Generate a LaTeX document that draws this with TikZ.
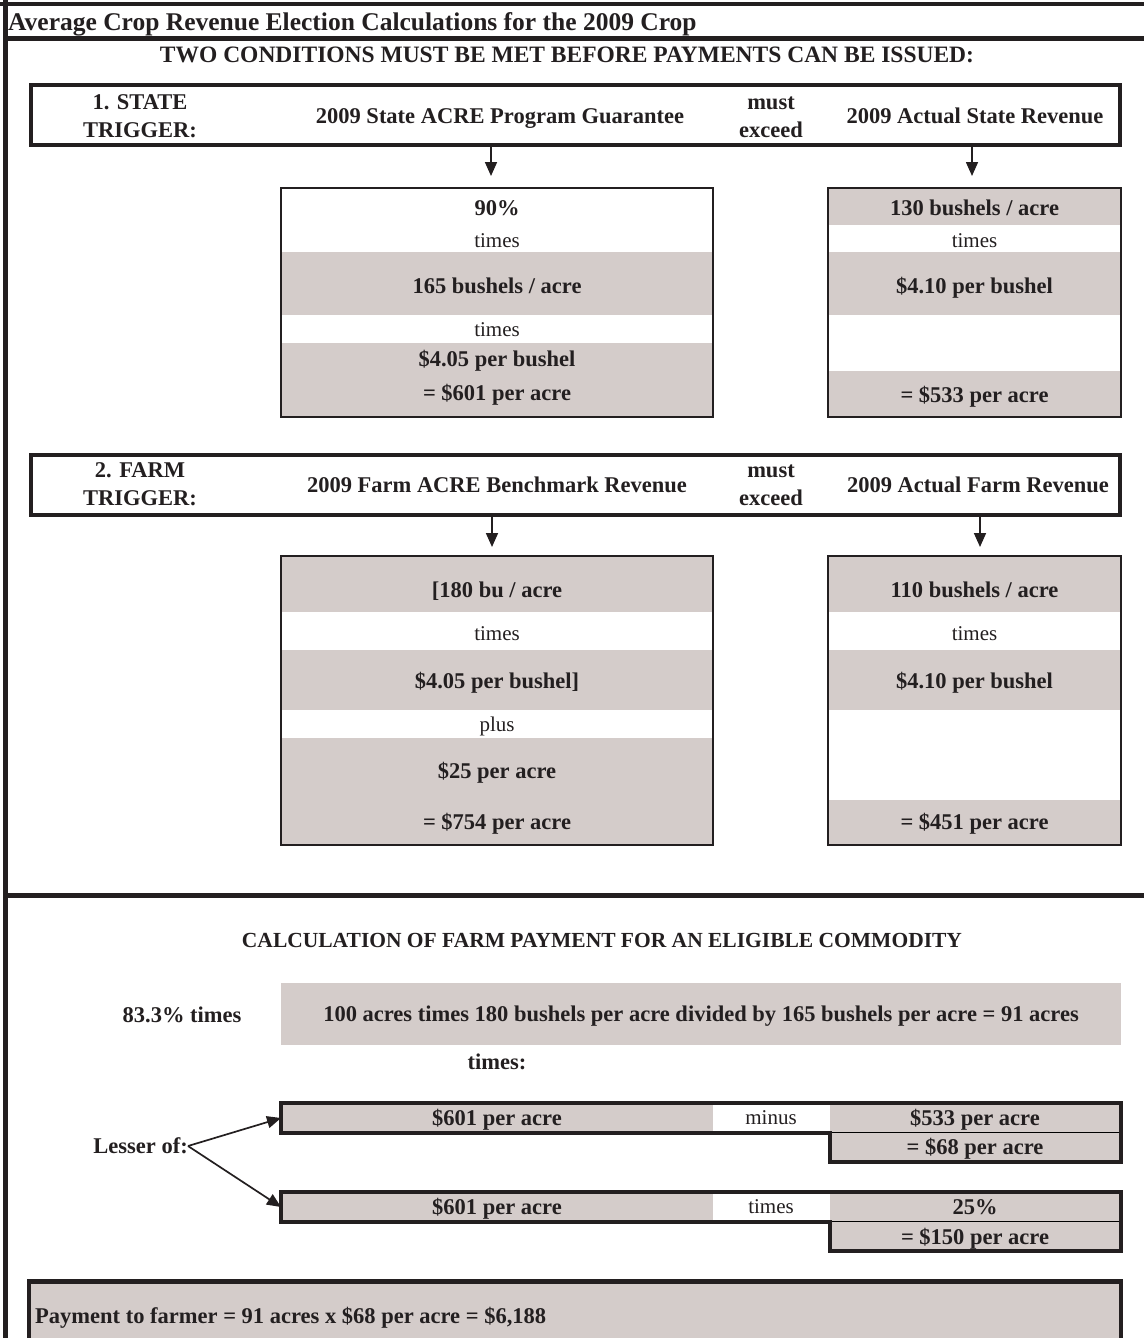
\documentclass[tikz,border=0pt]{standalone}
\usepackage{fontspec}
\setmainfont{Liberation Serif}
\usetikzlibrary{arrows.meta}
\definecolor{band}{RGB}{212,204,202}
\definecolor{ink}{RGB}{35,31,32}
\definecolor{thin}{RGB}{110,105,105}
\begin{document}
\begin{tikzpicture}[x=1pt,y=-1pt,
  bt/.style={font=\bfseries\fontsize{22.5}{26}\selectfont, text=ink, inner sep=0pt, text height=14.9pt, text depth=0pt},
  nt/.style={font=\fontsize{21}{25}\selectfont, text=ink, inner sep=0pt, text height=13.9pt, text depth=0pt},
  trig/.style={draw=ink, line width=4pt, inner sep=0pt},
  cbox/.style={draw=ink, line width=2.5pt, inner sep=0pt},
  arr/.style={draw=ink, line width=1.7pt, -{Triangle[length=14pt,width=12pt]}},
  rowline/.style={draw=ink, line width=4pt, line join=miter},
]
\useasboundingbox (0,0) rectangle (1144,1338);
% ---------- outer frame ----------
\draw[ink, line width=4pt] (0,4) -- (1144,4);
\draw[ink, line width=5pt] (5.5,0) -- (5.5,1338);
\draw[ink, line width=5pt] (3,39) -- (1144,39);
\node[bt, font=\bfseries\fontsize{25.5}{30}\selectfont, text height=16.9pt, anchor=west] (title) at (8,22.5) {Average Crop Revenue Election Calculations for the 2009 Crop};
\node[bt, font=\bfseries\fontsize{23.5}{28}\selectfont, text height=15.6pt] (cond) at (567,54.5) {TWO CONDITIONS MUST BE MET BEFORE PAYMENTS CAN BE ISSUED:};

% ---------- state trigger ----------
\node[trig, minimum width=1089pt, minimum height=59.5pt] (stbox) at (575.5,114.75) {};
\node[bt] (st1) at (140,102.5) {1. STATE};
\node[bt] (st2) at (140,130.5) {TRIGGER:};
\node[bt] (stg) at (500,116.5) {2009 State ACRE Program Guarantee};
\node[bt] (stm1) at (771,102.5) {must};
\node[bt] (stm2) at (771,130.5) {exceed};
\node[bt] (sta) at (975,116.5) {2009 Actual State Revenue};
\coordinate (sgtip) at (491,176);
\coordinate (satip) at (972,176);
\draw[arr] (stbox.south -| sgtip) -- (sgtip);
\draw[arr] (stbox.south -| satip) -- (satip);

% state left calc box
\fill[band] (281,252) rectangle (713,315);
\fill[band] (281,343) rectangle (713,417);
\node[cbox, minimum width=432pt, minimum height=229pt] (sl) at (497,302.5) {};
\node[bt] (sl1) at (497,208.5) {90\%};
\node[nt] (sl2) at (497,240.5) {times};
\node[bt] (sl3) at (497,286) {165 bushels / acre};
\node[nt] (sl4) at (497,330) {times};
\node[bt] (sl5) at (497,359) {\$4.05 per bushel};
\node[bt] (sl6) at (497,393) {= \$601 per acre};

% state right calc box
\fill[band] (828,188) rectangle (1121,225);
\fill[band] (828,252) rectangle (1121,315);
\fill[band] (828,371) rectangle (1121,417);
\node[cbox, minimum width=293pt, minimum height=229pt] (sr) at (974.5,302.5) {};
\node[bt] (sr1) at (974.5,208.5) {130 bushels / acre};
\node[nt] (sr2) at (974.5,240.5) {times};
\node[bt] (sr3) at (974.5,286) {\$4.10 per bushel};
\node[bt] (sr4) at (974.5,395) {= \$533 per acre};

% ---------- farm trigger ----------
\node[trig, minimum width=1089pt, minimum height=59.5pt] (fmbox) at (575.5,484.75) {};
\node[bt] (fm1) at (140,470.5) {2. FARM};
\node[bt] (fm2) at (140,498.5) {TRIGGER:};
\node[bt] (fmg) at (497,485.5) {2009 Farm ACRE Benchmark Revenue};
\node[bt] (fmm1) at (771,470.5) {must};
\node[bt] (fmm2) at (771,498.5) {exceed};
\node[bt] (fma) at (978,485.5) {2009 Actual Farm Revenue};
\coordinate (fgtip) at (492,547);
\coordinate (fatip) at (980,547);
\draw[arr] (fmbox.south -| fgtip) -- (fgtip);
\draw[arr] (fmbox.south -| fatip) -- (fatip);

% farm left calc box
\fill[band] (281,556) rectangle (713,612);
\fill[band] (281,650) rectangle (713,710);
\fill[band] (281,738) rectangle (713,845);
\node[cbox, minimum width=432pt, minimum height=289pt] (fl) at (497,700.5) {};
\node[bt] (fl1) at (497,590) {[180 bu / acre};
\node[nt] (fl2) at (497,634) {times};
\node[bt] (fl3) at (497,681) {\$4.05 per bushel]};
\node[nt] (fl4) at (497,725) {plus};
\node[bt] (fl5) at (497,771) {\$25 per acre};
\node[bt] (fl6) at (497,822) {= \$754 per acre};

% farm right calc box
\fill[band] (828,556) rectangle (1121,612);
\fill[band] (828,650) rectangle (1121,710);
\fill[band] (828,800) rectangle (1121,845);
\node[cbox, minimum width=293pt, minimum height=289pt] (fr) at (974.5,700.5) {};
\node[bt] (fr1) at (974.5,590) {110 bushels / acre};
\node[nt] (fr2) at (974.5,634) {times};
\node[bt] (fr3) at (974.5,681) {\$4.10 per bushel};
\node[bt] (fr4) at (974.5,822) {= \$451 per acre};

% ---------- divider ----------
\draw[ink, line width=5pt] (3,895) -- (1144,895);

% ---------- farm payment ----------
\node[bt, font=\bfseries\fontsize{21.5}{25}\selectfont, text height=14.2pt] (calc) at (602,940) {CALCULATION OF FARM PAYMENT FOR AN ELIGIBLE COMMODITY};
\node[fill=band, inner sep=0pt, minimum width=840pt, minimum height=62pt] (acbox) at (701,1014) {};
\node[bt] (acres) at (701,1014) {100 acres times 180 bushels per acre divided by 165 bushels per acre = 91 acres};
\node[bt] (pct) at (182,1015) {83.3\% times};
\node[bt] (tms) at (497,1062) {times:};

% row 1
\fill[band] (281,1103) -- (1121,1103) -- (1121,1161.5) -- (830,1161.5) -- (830,1132.5) -- (281,1132.5) -- cycle;
\fill[white] (713,1103) rectangle (830,1132.5);
\draw[thin, line width=1pt] (830,1132.5) -- (1121,1132.5);
\draw[rowline] (281,1103) -- (1121,1103) -- (1121,1161.5) -- (830,1161.5) -- (830,1132.5) -- (281,1132.5) -- cycle;
\coordinate (r1in) at (281,1118);
\node[bt] (r1a) at (497,1118) {\$601 per acre};
\node[nt] (r1b) at (771,1118) {minus};
\node[bt] (r1c) at (975,1118) {\$533 per acre};
\node[bt] (r1d) at (975,1147) {= \$68 per acre};

% row 2
\fill[band] (281,1192) -- (1121,1192) -- (1121,1251) -- (830,1251) -- (830,1221.5) -- (281,1221.5) -- cycle;
\fill[white] (713,1192) rectangle (830,1221.5);
\draw[thin, line width=1pt] (830,1221.5) -- (1121,1221.5);
\draw[rowline] (281,1192) -- (1121,1192) -- (1121,1251) -- (830,1251) -- (830,1221.5) -- (281,1221.5) -- cycle;
\coordinate (r2in) at (281,1207);
\node[bt] (r2a) at (497,1207) {\$601 per acre};
\node[nt] (r2b) at (771,1207) {times};
\node[bt] (r2c) at (975,1207) {25\%};
\node[bt] (r2d) at (975,1237) {= \$150 per acre};

% lesser of
\node[bt, anchor=east] (less) at (188,1146) {Lesser of:};
\draw[arr] (less.east) -- (r1in);
\draw[arr] (less.east) -- (r2in);

% payment
\fill[band] (29,1281.5) rectangle (1121,1345);
\draw[ink, line width=4.5pt] (29,1345) -- (29,1281.5) -- (1121,1281.5) -- (1121,1345);
\node[bt, anchor=west] (pay) at (35,1316) {Payment to farmer = 91 acres x \$68 per acre = \$6,188};
\end{tikzpicture}
\end{document}
